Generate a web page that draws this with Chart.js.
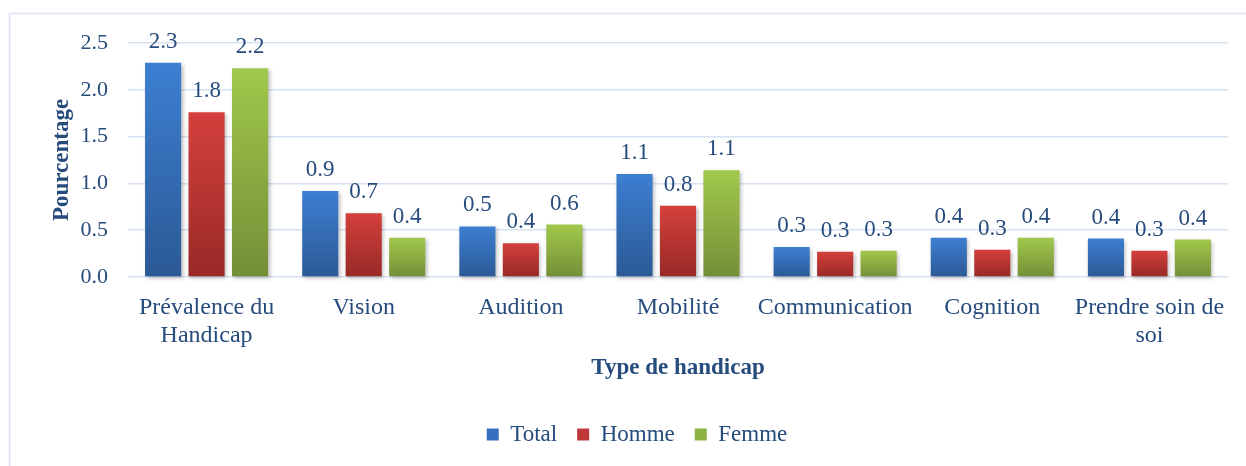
<!DOCTYPE html>
<html lang="fr">
<head>
<meta charset="utf-8">
<title>Type de handicap</title>
<script src="https://cdn.jsdelivr.net/npm/chart.js@4.4.1/dist/chart.umd.min.js"></script>
<style>
  html, body { margin: 0; padding: 0; background: #ffffff; }
  #wrap { width: 1246px; height: 466px; position: relative; }
</style>
</head>
<body>
<div id="wrap"><canvas id="chart"></canvas></div>
<script>
// Data
const categories = [['Prévalence du', 'Handicap'], 'Vision', 'Audition', 'Mobilité', 'Communication', 'Cognition', ['Prendre soin de', 'soi']];
const seriesNames = ['Total', 'Homme', 'Femme'];
const totalValues = [2.29, 0.92, 0.54, 1.10, 0.32, 0.42, 0.41];
const hommeValues = [1.76, 0.68, 0.36, 0.76, 0.27, 0.29, 0.28];
const femmeValues = [2.23, 0.42, 0.56, 1.14, 0.28, 0.42, 0.40];
const yTicks = [0, 0.5, 1.0, 1.5, 2.0, 2.5];

const textColor = '#264b7d';
const gridColor = '#d6e1f1';
const serif = "'Liberation Serif', 'Times New Roman', serif";

// top / bottom colours of each bar gradient
const palette = [
  { top: '#3d7fd2', bottom: '#2b5995', mid: '#3470be' },
  { top: '#d4403c', bottom: '#982926', mid: '#c0373a' },
  { top: '#a1c84b', bottom: '#738f37', mid: '#8db243' }
];

function barGradient(colors) {
  return (context) => {
    const chart = context.chart;
    const { ctx, chartArea, scales } = chart;
    if (!chartArea || context.type !== 'data' || !scales.y) return colors.mid;
    const y0 = scales.y.getPixelForValue(0);
    const y1 = scales.y.getPixelForValue(context.parsed.y);
    const grad = ctx.createLinearGradient(0, y1, 0, y0);
    grad.addColorStop(0, colors.top);
    grad.addColorStop(1, colors.bottom);
    return grad;
  };
}

// Frame lines (top and left edge)
const framePlugin = {
  id: 'frame',
  beforeDraw(chart) {
    const ctx = chart.ctx;
    ctx.save();
    ctx.strokeStyle = '#d9e3f2';
    ctx.lineWidth = 1.5;
    ctx.beginPath();
    ctx.moveTo(9.5, 466);
    ctx.lineTo(9.5, 13.5);
    ctx.lineTo(1246, 13.5);
    ctx.stroke();
    ctx.restore();
  }
};

// legend sits a little right of centre in the original
const legendShift = {
  id: 'legendShift',
  afterLayout(chart) {
    if (chart.legend) {
      chart.legend.left += 18;
      chart.legend.right += 18;
    }
  }
};

// Soft shadow under the bars
const shadowPlugin = {
  id: 'barShadow',
  beforeDatasetsDraw(chart) {
    const ctx = chart.ctx;
    ctx.save();
    ctx.shadowColor = 'rgba(0, 0, 0, 0.28)';
    ctx.shadowBlur = 4;
    ctx.shadowOffsetX = 1.5;
    ctx.shadowOffsetY = 2;
  },
  afterDatasetsDraw(chart) {
    chart.ctx.restore();
  }
};

// Value labels above each bar
const valueLabels = {
  id: 'valueLabels',
  afterDatasetsDraw(chart) {
    const ctx = chart.ctx;
    ctx.save();
    ctx.font = '23px ' + serif;
    ctx.fillStyle = textColor;
    ctx.textAlign = 'center';
    ctx.textBaseline = 'alphabetic';
    chart.data.datasets.forEach((ds, i) => {
      const meta = chart.getDatasetMeta(i);
      meta.data.forEach((bar, j) => {
        ctx.fillText(ds.data[j].toFixed(1), bar.x, bar.y - 15);
      });
    });
    ctx.restore();
  }
};

const ctx = document.getElementById('chart').getContext('2d');
new Chart(ctx, {
  type: 'bar',
  data: {
    labels: categories,
    datasets: [
      { label: seriesNames[0], data: totalValues, backgroundColor: barGradient(palette[0]) },
      { label: seriesNames[1], data: hommeValues, backgroundColor: barGradient(palette[1]) },
      { label: seriesNames[2], data: femmeValues, backgroundColor: barGradient(palette[2]) }
    ]
  },
  options: {
    responsive: true,
    maintainAspectRatio: false,
    animation: false,
    categoryPercentage: 0.83,
    barPercentage: 0.83,
    clip: false,
    layout: { padding: { left: 10, right: 18, top: 43, bottom: 10 } },
    plugins: {
      tooltip: { enabled: false },
      legend: {
        position: 'bottom',
        labels: {
          color: textColor,
          font: { family: serif, size: 23 },
          boxWidth: 12,
          boxHeight: 12,
          padding: 20,
          generateLabels: (chart) => chart.data.datasets.map((ds, i) => ({
            text: ds.label,
            fillStyle: palette[i].mid,
            strokeStyle: palette[i].mid,
            lineWidth: 0,
            hidden: false,
            datasetIndex: i,
            fontColor: textColor
          }))
        }
      }
    },
    scales: {
      x: {
        grid: { display: false },
        border: { display: false },
        ticks: {
          color: textColor,
          font: { family: serif, size: 24, lineHeight: 1.15 },
          padding: 9,
          maxRotation: 0,
          autoSkip: false
        },
        title: {
          display: true,
          text: 'Type de handicap',
          color: textColor,
          font: { family: serif, size: 23, weight: 'bold', lineHeight: 1.2 },
          padding: { top: 0, bottom: 21 }
        },
        afterFit(scale) { scale.height = 126; }
      },
      y: {
        min: yTicks[0],
        max: yTicks[yTicks.length - 1],
        afterBuildTicks(scale) { scale.ticks = yTicks.map(v => ({ value: v })); },
        grid: { color: gridColor, lineWidth: 1.5, drawTicks: false },
        border: { display: false },
        ticks: {
          color: textColor,
          font: { family: serif, size: 22 },
          padding: 20,
          callback: (v) => Number(v).toFixed(1)
        },
        title: {
          display: true,
          text: 'Pourcentage',
          color: textColor,
          font: { family: serif, size: 23, weight: 'bold', lineHeight: 1.2 },
          padding: { top: 38, bottom: 0 }
        },
        afterFit(scale) { scale.width = 118; }
      }
    }
  },
  plugins: [framePlugin, legendShift, shadowPlugin, valueLabels]
});
</script>
</body>
</html>
